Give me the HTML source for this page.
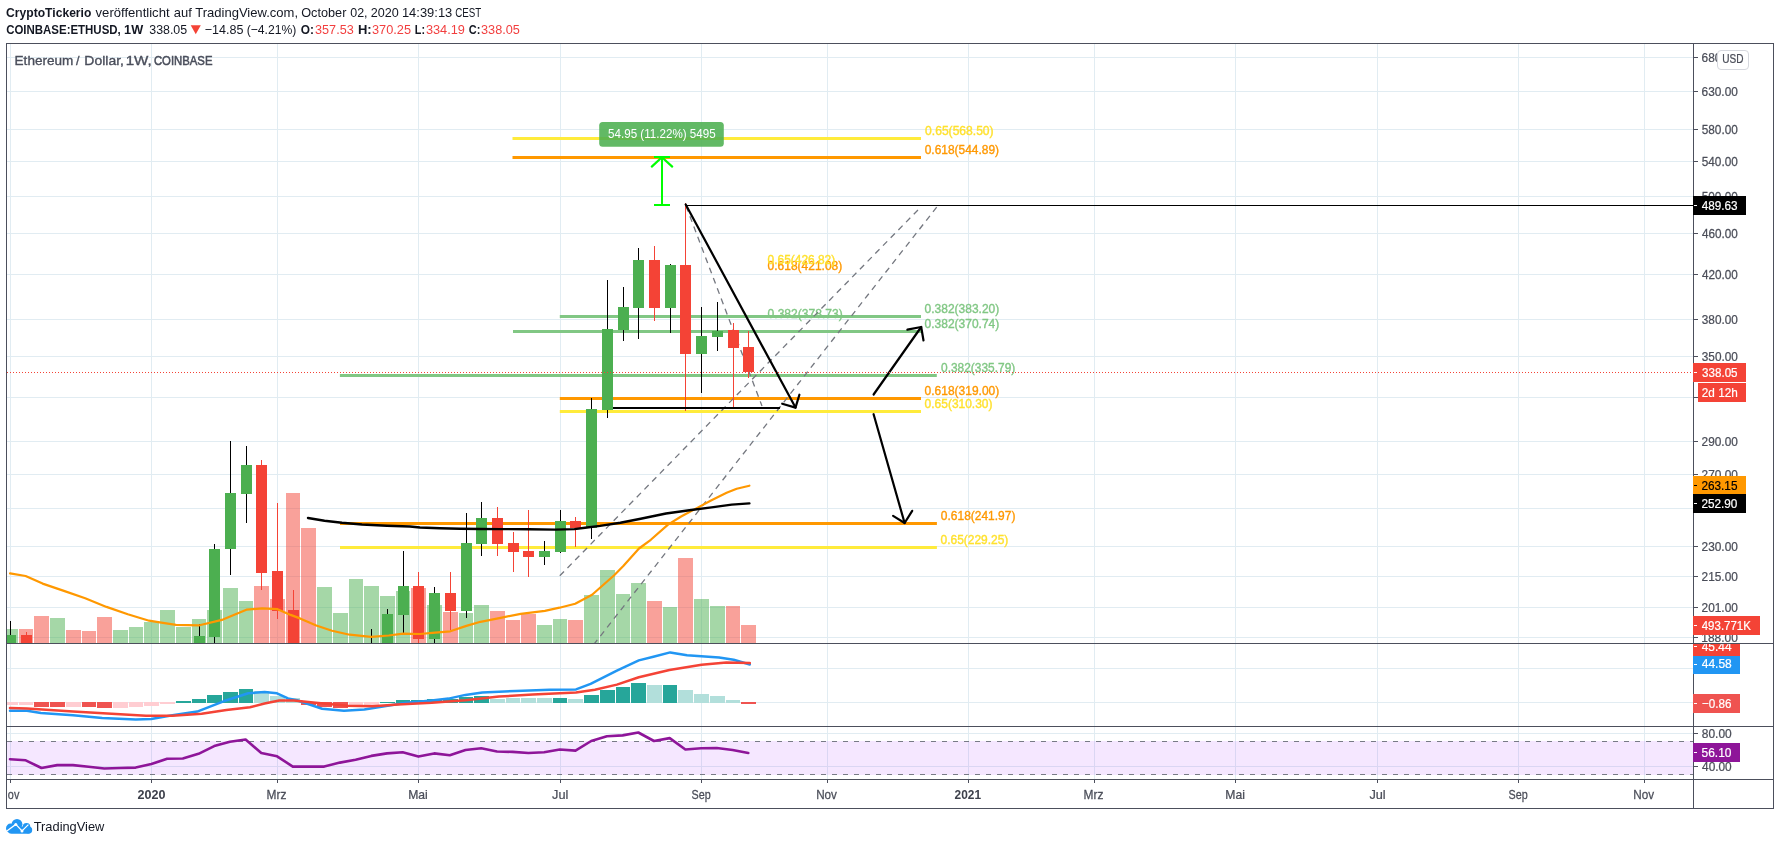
<!DOCTYPE html><html><head><meta charset="utf-8"><title>ETHUSD</title><style>html,body{margin:0;padding:0;background:#fff;width:1780px;height:845px;overflow:hidden}svg{display:block;will-change:transform}text{font-family:"Liberation Sans",sans-serif}</style></head><body>
<svg width="1780" height="845" viewBox="0 0 1780 845">
<defs><clipPath id="cmain"><rect x="7" y="44" width="1686" height="599"/></clipPath><clipPath id="cmacd"><rect x="7" y="644" width="1686" height="82"/></clipPath><clipPath id="crsi"><rect x="7" y="727" width="1686" height="52"/></clipPath><clipPath id="ctime"><rect x="7" y="780" width="1686" height="28"/></clipPath><clipPath id="cmacdax"><rect x="1693" y="644" width="80" height="82"/></clipPath></defs>
<rect width="1780" height="845" fill="#fff"/>
<rect x="10" y="44" width="1" height="735" fill="#e1ecf2"/>
<rect x="151" y="44" width="1" height="735" fill="#e1ecf2"/>
<rect x="277" y="44" width="1" height="735" fill="#e1ecf2"/>
<rect x="418" y="44" width="1" height="735" fill="#e1ecf2"/>
<rect x="560" y="44" width="1" height="735" fill="#e1ecf2"/>
<rect x="701" y="44" width="1" height="735" fill="#e1ecf2"/>
<rect x="827" y="44" width="1" height="735" fill="#e1ecf2"/>
<rect x="968" y="44" width="1" height="735" fill="#e1ecf2"/>
<rect x="1094" y="44" width="1" height="735" fill="#e1ecf2"/>
<rect x="1235" y="44" width="1" height="735" fill="#e1ecf2"/>
<rect x="1377" y="44" width="1" height="735" fill="#e1ecf2"/>
<rect x="1518" y="44" width="1" height="735" fill="#e1ecf2"/>
<rect x="1644" y="44" width="1" height="735" fill="#e1ecf2"/>
<rect x="7" y="57" width="1686" height="1" fill="#e1ecf2"/>
<rect x="7" y="91" width="1686" height="1" fill="#e1ecf2"/>
<rect x="7" y="129" width="1686" height="1" fill="#e1ecf2"/>
<rect x="7" y="161" width="1686" height="1" fill="#e1ecf2"/>
<rect x="7" y="196" width="1686" height="1" fill="#e1ecf2"/>
<rect x="7" y="233" width="1686" height="1" fill="#e1ecf2"/>
<rect x="7" y="274" width="1686" height="1" fill="#e1ecf2"/>
<rect x="7" y="319" width="1686" height="1" fill="#e1ecf2"/>
<rect x="7" y="356" width="1686" height="1" fill="#e1ecf2"/>
<rect x="7" y="397" width="1686" height="1" fill="#e1ecf2"/>
<rect x="7" y="441" width="1686" height="1" fill="#e1ecf2"/>
<rect x="7" y="474" width="1686" height="1" fill="#e1ecf2"/>
<rect x="7" y="508" width="1686" height="1" fill="#e1ecf2"/>
<rect x="7" y="546" width="1686" height="1" fill="#e1ecf2"/>
<rect x="7" y="576" width="1686" height="1" fill="#e1ecf2"/>
<rect x="7" y="607" width="1686" height="1" fill="#e1ecf2"/>
<rect x="7" y="637" width="1686" height="1" fill="#e1ecf2"/>
<rect x="7" y="668" width="1686" height="1" fill="#e1ecf2"/>
<rect x="7" y="702" width="1686" height="1" fill="#e1ecf2"/>
<rect x="7" y="733" width="1686" height="1" fill="#e1ecf2"/>
<rect x="7" y="766" width="1686" height="1" fill="#e1ecf2"/>
<g clip-path="url(#cmain)">
<rect x="3" y="629" width="15" height="14" fill="#4caf50" fill-opacity="0.5"/>
<rect x="19" y="629" width="14" height="14" fill="#f44336" fill-opacity="0.5"/>
<rect x="34" y="616" width="15" height="27" fill="#f44336" fill-opacity="0.5"/>
<rect x="50" y="618" width="15" height="25" fill="#4caf50" fill-opacity="0.5"/>
<rect x="66" y="630" width="15" height="13" fill="#f44336" fill-opacity="0.5"/>
<rect x="82" y="631" width="14" height="12" fill="#f44336" fill-opacity="0.5"/>
<rect x="97" y="617" width="15" height="26" fill="#f44336" fill-opacity="0.5"/>
<rect x="113" y="630" width="15" height="13" fill="#4caf50" fill-opacity="0.5"/>
<rect x="129" y="627" width="14" height="16" fill="#4caf50" fill-opacity="0.5"/>
<rect x="144" y="622" width="15" height="21" fill="#4caf50" fill-opacity="0.5"/>
<rect x="160" y="610" width="15" height="33" fill="#4caf50" fill-opacity="0.5"/>
<rect x="176" y="627" width="15" height="16" fill="#4caf50" fill-opacity="0.5"/>
<rect x="192" y="619" width="14" height="24" fill="#4caf50" fill-opacity="0.5"/>
<rect x="207" y="610" width="15" height="33" fill="#4caf50" fill-opacity="0.5"/>
<rect x="223" y="588" width="15" height="55" fill="#4caf50" fill-opacity="0.5"/>
<rect x="239" y="601" width="14" height="42" fill="#4caf50" fill-opacity="0.5"/>
<rect x="254" y="586" width="15" height="57" fill="#f44336" fill-opacity="0.5"/>
<rect x="270" y="599" width="15" height="44" fill="#f44336" fill-opacity="0.5"/>
<rect x="286" y="493" width="14" height="150" fill="#f44336" fill-opacity="0.5"/>
<rect x="301" y="528" width="15" height="115" fill="#f44336" fill-opacity="0.5"/>
<rect x="317" y="587" width="15" height="56" fill="#4caf50" fill-opacity="0.5"/>
<rect x="333" y="613" width="15" height="30" fill="#4caf50" fill-opacity="0.5"/>
<rect x="349" y="579" width="14" height="64" fill="#4caf50" fill-opacity="0.5"/>
<rect x="364" y="586" width="15" height="57" fill="#4caf50" fill-opacity="0.5"/>
<rect x="380" y="596" width="15" height="47" fill="#4caf50" fill-opacity="0.5"/>
<rect x="396" y="591" width="14" height="52" fill="#4caf50" fill-opacity="0.5"/>
<rect x="411" y="588" width="15" height="55" fill="#f44336" fill-opacity="0.5"/>
<rect x="427" y="605" width="15" height="38" fill="#4caf50" fill-opacity="0.5"/>
<rect x="443" y="612" width="15" height="31" fill="#f44336" fill-opacity="0.5"/>
<rect x="459" y="613" width="14" height="30" fill="#4caf50" fill-opacity="0.5"/>
<rect x="474" y="605" width="15" height="38" fill="#4caf50" fill-opacity="0.5"/>
<rect x="490" y="611" width="15" height="32" fill="#f44336" fill-opacity="0.5"/>
<rect x="506" y="620" width="14" height="23" fill="#f44336" fill-opacity="0.5"/>
<rect x="521" y="614" width="15" height="29" fill="#f44336" fill-opacity="0.5"/>
<rect x="537" y="625" width="15" height="18" fill="#4caf50" fill-opacity="0.5"/>
<rect x="553" y="619" width="14" height="24" fill="#4caf50" fill-opacity="0.5"/>
<rect x="568" y="620" width="15" height="23" fill="#f44336" fill-opacity="0.5"/>
<rect x="584" y="595" width="15" height="48" fill="#4caf50" fill-opacity="0.5"/>
<rect x="600" y="570" width="15" height="73" fill="#4caf50" fill-opacity="0.5"/>
<rect x="616" y="594" width="14" height="49" fill="#4caf50" fill-opacity="0.5"/>
<rect x="631" y="583" width="15" height="60" fill="#4caf50" fill-opacity="0.5"/>
<rect x="647" y="601" width="15" height="42" fill="#f44336" fill-opacity="0.5"/>
<rect x="663" y="607" width="14" height="36" fill="#4caf50" fill-opacity="0.5"/>
<rect x="678" y="558" width="15" height="85" fill="#f44336" fill-opacity="0.5"/>
<rect x="694" y="599" width="15" height="44" fill="#4caf50" fill-opacity="0.5"/>
<rect x="710" y="606" width="15" height="37" fill="#4caf50" fill-opacity="0.5"/>
<rect x="726" y="606" width="14" height="37" fill="#f44336" fill-opacity="0.5"/>
<rect x="741" y="625" width="15" height="18" fill="#f44336" fill-opacity="0.5"/>
<text transform="translate(767.62,317.60) scale(0.9726,1)" font-size="12.4" fill="#81c784" stroke="#81c784" stroke-width="0.35">0.382(378.73)</text>
<rect x="512.5" y="137" width="408.5" height="3" fill="#ffeb3b"/>
<rect x="512.5" y="156" width="408.5" height="3" fill="#ff9800"/>
<rect x="559.8" y="315" width="361.2" height="3" fill="#81c784"/>
<rect x="513" y="330" width="408.0" height="3" fill="#81c784"/>
<rect x="339.9" y="374" width="596.9" height="3" fill="#81c784"/>
<rect x="559.8" y="397" width="361.2" height="3" fill="#ff9800"/>
<rect x="559.8" y="410" width="361.2" height="3" fill="#ffeb3b"/>
<rect x="340" y="522" width="596.9" height="3" fill="#ff9800"/>
<rect x="340" y="546" width="596.9" height="3" fill="#ffeb3b"/>
<line x1="559.8" y1="575.8" x2="918.3" y2="209.6" stroke="#74777f" stroke-width="1.3" stroke-dasharray="6 5"/>
<line x1="580" y1="662" x2="937.4" y2="206.3" stroke="#74777f" stroke-width="1.3" stroke-dasharray="6 5"/>
<line x1="686" y1="206" x2="762" y2="406" stroke="#74777f" stroke-width="1.3" stroke-dasharray="6 5"/>
<text transform="translate(14.58,64.80) scale(1.0276,1)" font-size="13.2" fill="#4a4e5b" stroke="#4a4e5b" stroke-width="0.35">Ethereum</text>
<text transform="translate(76.10,64.80) scale(0.9555,1)" font-size="13.2" fill="#4a4e5b" stroke="#4a4e5b" stroke-width="0.35">/</text>
<text transform="translate(84.35,64.80) scale(1.0585,1)" font-size="13.2" fill="#4a4e5b" stroke="#4a4e5b" stroke-width="0.35">Dollar,</text>
<text transform="translate(125.66,64.80) scale(1.1479,1)" font-size="13.2" fill="#4a4e5b" stroke="#4a4e5b" stroke-width="0.35">1W,</text>
<text transform="translate(153.93,64.80) scale(0.8583,1)" font-size="13.2" fill="#4a4e5b" stroke="#4a4e5b" stroke-width="0.55">COINBASE</text>
<text transform="translate(925.12,134.70) scale(0.9744,1)" font-size="12.4" fill="#ffe12e" stroke="#ffe12e" stroke-width="0.35">0.65(568.50)</text>
<text transform="translate(924.72,153.80) scale(0.9634,1)" font-size="12.4" fill="#ff9800" stroke="#ff9800" stroke-width="0.35">0.618(544.89)</text>
<text transform="translate(767.62,269.60) scale(0.9660,1)" font-size="12.4" fill="#ff9800" stroke="#ff9800" stroke-width="0.35">0.618(421.08)</text>
<text transform="translate(767.62,263.60) scale(0.9614,1)" font-size="12.4" fill="#ffe12e" stroke="#ffe12e" stroke-width="0.35">0.65(426.82)</text>
<text transform="translate(924.62,312.80) scale(0.9660,1)" font-size="12.4" fill="#81c784" stroke="#81c784" stroke-width="0.35">0.382(383.20)</text>
<text transform="translate(924.62,327.80) scale(0.9660,1)" font-size="12.4" fill="#81c784" stroke="#81c784" stroke-width="0.35">0.382(370.74)</text>
<text transform="translate(941.02,371.80) scale(0.9621,1)" font-size="12.4" fill="#81c784" stroke="#81c784" stroke-width="0.35">0.382(335.79)</text>
<text transform="translate(924.62,394.90) scale(0.9660,1)" font-size="12.4" fill="#ff9800" stroke="#ff9800" stroke-width="0.35">0.618(319.00)</text>
<text transform="translate(924.62,407.60) scale(0.9657,1)" font-size="12.4" fill="#ffe12e" stroke="#ffe12e" stroke-width="0.35">0.65(310.30)</text>
<text transform="translate(940.82,519.70) scale(0.9660,1)" font-size="12.4" fill="#ff9800" stroke="#ff9800" stroke-width="0.35">0.618(241.97)</text>
<text transform="translate(940.52,543.80) scale(0.9657,1)" font-size="12.4" fill="#ffe12e" stroke="#ffe12e" stroke-width="0.35">0.65(229.25)</text>
<rect x="10" y="621" width="1" height="39" fill="#000000"/>
<rect x="5" y="635" width="11" height="25" fill="#4caf50"/>
<rect x="26" y="632" width="1" height="28" fill="#f44336"/>
<rect x="21" y="635" width="11" height="25" fill="#f44336"/>
<rect x="199" y="624" width="1" height="36" fill="#000000"/>
<rect x="194" y="636" width="11" height="24" fill="#4caf50"/>
<rect x="214" y="544" width="1" height="116" fill="#000000"/>
<rect x="209" y="549" width="11" height="88" fill="#4caf50"/>
<rect x="230" y="441" width="1" height="134" fill="#000000"/>
<rect x="225" y="493" width="11" height="56" fill="#4caf50"/>
<rect x="246" y="446" width="1" height="77" fill="#000000"/>
<rect x="241" y="465" width="11" height="29" fill="#4caf50"/>
<rect x="261" y="460" width="1" height="130" fill="#f44336"/>
<rect x="256" y="465" width="11" height="108" fill="#f44336"/>
<rect x="277" y="503" width="1" height="116" fill="#f44336"/>
<rect x="272" y="571" width="11" height="40" fill="#f44336"/>
<rect x="293" y="590" width="1" height="70" fill="#f44336"/>
<rect x="288" y="610" width="11" height="50" fill="#f44336"/>
<rect x="371" y="629" width="1" height="31" fill="#000000"/>
<rect x="366" y="660" width="11" height="1" fill="#4caf50"/>
<rect x="387" y="609" width="1" height="51" fill="#000000"/>
<rect x="382" y="614" width="11" height="46" fill="#4caf50"/>
<rect x="403" y="551" width="1" height="82" fill="#000000"/>
<rect x="398" y="586" width="11" height="29" fill="#4caf50"/>
<rect x="418" y="572" width="1" height="88" fill="#f44336"/>
<rect x="413" y="586" width="11" height="53" fill="#f44336"/>
<rect x="434" y="587" width="1" height="73" fill="#000000"/>
<rect x="429" y="593" width="11" height="46" fill="#4caf50"/>
<rect x="450" y="572" width="1" height="58" fill="#f44336"/>
<rect x="445" y="593" width="11" height="18" fill="#f44336"/>
<rect x="466" y="513" width="1" height="105" fill="#000000"/>
<rect x="461" y="543" width="11" height="68" fill="#4caf50"/>
<rect x="481" y="502" width="1" height="54" fill="#000000"/>
<rect x="476" y="518" width="11" height="26" fill="#4caf50"/>
<rect x="497" y="507" width="1" height="49" fill="#f44336"/>
<rect x="492" y="518" width="11" height="26" fill="#f44336"/>
<rect x="513" y="532" width="1" height="40" fill="#f44336"/>
<rect x="508" y="543" width="11" height="9" fill="#f44336"/>
<rect x="528" y="510" width="1" height="67" fill="#f44336"/>
<rect x="523" y="551" width="11" height="6" fill="#f44336"/>
<rect x="544" y="541" width="1" height="24" fill="#000000"/>
<rect x="539" y="551" width="11" height="6" fill="#4caf50"/>
<rect x="560" y="510" width="1" height="43" fill="#000000"/>
<rect x="555" y="521" width="11" height="31" fill="#4caf50"/>
<rect x="575" y="517" width="1" height="30" fill="#f44336"/>
<rect x="570" y="521" width="11" height="7" fill="#f44336"/>
<rect x="591" y="398" width="1" height="141" fill="#000000"/>
<rect x="586" y="409" width="11" height="119" fill="#4caf50"/>
<rect x="607" y="280" width="1" height="138" fill="#000000"/>
<rect x="602" y="329" width="11" height="81" fill="#4caf50"/>
<rect x="623" y="287" width="1" height="54" fill="#000000"/>
<rect x="618" y="307" width="11" height="23" fill="#4caf50"/>
<rect x="638" y="248" width="1" height="91" fill="#000000"/>
<rect x="633" y="260" width="11" height="48" fill="#4caf50"/>
<rect x="654" y="246" width="1" height="75" fill="#f44336"/>
<rect x="649" y="260" width="11" height="48" fill="#f44336"/>
<rect x="670" y="264" width="1" height="69" fill="#000000"/>
<rect x="665" y="265" width="11" height="43" fill="#4caf50"/>
<rect x="685" y="203" width="1" height="208" fill="#f44336"/>
<rect x="680" y="265" width="11" height="89" fill="#f44336"/>
<rect x="701" y="307" width="1" height="86" fill="#000000"/>
<rect x="696" y="336" width="11" height="18" fill="#4caf50"/>
<rect x="717" y="302" width="1" height="49" fill="#000000"/>
<rect x="712" y="331" width="11" height="6" fill="#4caf50"/>
<rect x="733" y="323" width="1" height="85" fill="#f44336"/>
<rect x="728" y="330" width="11" height="18" fill="#f44336"/>
<rect x="748" y="331" width="1" height="47" fill="#f44336"/>
<rect x="743" y="347" width="11" height="25" fill="#f44336"/>
<polyline points="10.1,573.3 25.6,576.0 42.6,583.6 63.9,590.9 85.2,598.3 106.5,606.9 127.8,614.3 149.1,620.7 159.7,622.3 176.0,624.8 199.5,625.3 222.9,619.6 246.4,609.7 262.0,608.4 277.6,609.2 290.6,614.9 300.0,618.4 316.3,625.5 332.0,630.8 349.7,634.7 371.0,636.9 388.8,635.5 403.0,633.7 420.0,634.0 432.2,632.9 450.3,631.3 466.4,625.9 480.5,621.8 500.6,617.8 520.7,613.8 544.9,610.8 559.5,607.7 575.2,603.8 592.1,594.7 614.2,575.2 623.3,566.0 639.0,548.5 650.8,539.8 668.0,524.6 681.1,516.5 696.3,508.4 711.5,500.3 726.6,492.8 736.7,488.7 749.4,485.7" fill="none" stroke="#ff9800" stroke-width="2.2" stroke-linejoin="round" stroke-linecap="round"/>
<polyline points="308.0,518.0 324.5,520.7 342.0,522.7 362.0,524.5 387.0,525.7 410.0,526.5 420.0,527.5 440.0,528.2 460.0,528.8 480.0,529.0 500.0,529.1 529.0,529.3 555.0,529.6 574.5,529.1 585.0,527.8 600.0,525.9 620.4,522.8 640.7,518.7 666.0,513.5 691.2,510.0 711.5,507.4 731.7,504.6 749.4,503.4" fill="none" stroke="#000000" stroke-width="2.4" stroke-linejoin="round" stroke-linecap="round"/>
<rect x="686" y="205" width="1007" height="1" fill="#000"/>
<rect x="613" y="407" width="167" height="2" fill="#000"/>
<line x1="685.7" y1="204.5" x2="795.5" y2="407.6" stroke="#000" stroke-width="2.2" stroke-linecap="round"/>
<polyline points="782.2,403.7 795.5,407.6 799.4,394.7" fill="none" stroke="#000" stroke-width="2.2" stroke-linejoin="round" stroke-linecap="round"/>
<line x1="873.6" y1="394.5" x2="921.2" y2="327" stroke="#000" stroke-width="2.2" stroke-linecap="round"/>
<polyline points="907.4,329.7 921.2,327.0 923.5,340.5" fill="none" stroke="#000" stroke-width="2.2" stroke-linejoin="round" stroke-linecap="round"/>
<line x1="873.6" y1="414.2" x2="904.6" y2="523" stroke="#000" stroke-width="2.2" stroke-linecap="round"/>
<polyline points="893.1,515.9 904.6,523.0 912.2,510.8" fill="none" stroke="#000" stroke-width="2.2" stroke-linejoin="round" stroke-linecap="round"/>
<rect x="654" y="156" width="16" height="2" fill="#00ff00"/>
<rect x="661" y="156" width="2" height="50" fill="#00ff00"/>
<rect x="654" y="204" width="16" height="2" fill="#00ff00"/>
<polyline points="651.8,166.6 661.9,157.2 672.2,166.6" fill="none" stroke="#00ff00" stroke-width="2.2" stroke-linejoin="round" stroke-linecap="round" stroke-linecap="butt" stroke-linejoin="miter"/>
<rect x="599.2" y="122" width="124.6" height="24.8" rx="3.5" fill="#4caf50" fill-opacity="0.88"/>
<text transform="translate(608.03,137.90) scale(0.9302,1)" font-size="12.5" fill="#ffffff">54.95 (11.22%) 5495</text>
<line x1="7" y1="372.5" x2="1693" y2="372.5" stroke="#f44336" stroke-width="1" stroke-dasharray="1 2"/>
</g>
<g clip-path="url(#cmacd)"><rect x="3" y="702" width="15" height="3" fill="#ffcdd2"/>
<rect x="19" y="702" width="14" height="3" fill="#ffcdd2"/>
<rect x="34" y="702" width="15" height="5" fill="#ef5350"/>
<rect x="50" y="702" width="15" height="5" fill="#ef5350"/>
<rect x="66" y="702" width="15" height="5" fill="#ffcdd2"/>
<rect x="82" y="702" width="14" height="5" fill="#ef5350"/>
<rect x="97" y="702" width="15" height="6" fill="#ef5350"/>
<rect x="113" y="702" width="15" height="6" fill="#ffcdd2"/>
<rect x="129" y="702" width="14" height="5" fill="#ffcdd2"/>
<rect x="144" y="702" width="15" height="4" fill="#ffcdd2"/>
<rect x="160" y="702" width="15" height="2" fill="#ffcdd2"/>
<rect x="176" y="701" width="15" height="2" fill="#26a69a"/>
<rect x="192" y="699" width="14" height="4" fill="#26a69a"/>
<rect x="207" y="695" width="15" height="8" fill="#26a69a"/>
<rect x="223" y="692" width="15" height="11" fill="#26a69a"/>
<rect x="239" y="689" width="14" height="14" fill="#26a69a"/>
<rect x="254" y="691" width="15" height="12" fill="#b2dfdb"/>
<rect x="270" y="696" width="15" height="7" fill="#b2dfdb"/>
<rect x="286" y="698" width="14" height="5" fill="#b2dfdb"/>
<rect x="301" y="702" width="15" height="3" fill="#ef5350"/>
<rect x="317" y="702" width="15" height="5" fill="#ef5350"/>
<rect x="333" y="702" width="15" height="6" fill="#ef5350"/>
<rect x="349" y="702" width="14" height="3" fill="#ffcdd2"/>
<rect x="364" y="702" width="15" height="3" fill="#ffcdd2"/>
<rect x="380" y="702" width="15" height="1" fill="#26a69a"/>
<rect x="396" y="700" width="14" height="3" fill="#26a69a"/>
<rect x="411" y="700" width="15" height="3" fill="#26a69a"/>
<rect x="427" y="699" width="15" height="4" fill="#26a69a"/>
<rect x="443" y="699" width="15" height="4" fill="#26a69a"/>
<rect x="459" y="697" width="14" height="6" fill="#26a69a"/>
<rect x="474" y="696" width="15" height="7" fill="#26a69a"/>
<rect x="490" y="699" width="15" height="4" fill="#b2dfdb"/>
<rect x="506" y="698" width="14" height="5" fill="#b2dfdb"/>
<rect x="521" y="698" width="15" height="5" fill="#b2dfdb"/>
<rect x="537" y="698" width="15" height="5" fill="#b2dfdb"/>
<rect x="553" y="698" width="14" height="5" fill="#26a69a"/>
<rect x="568" y="699" width="15" height="4" fill="#b2dfdb"/>
<rect x="584" y="695" width="15" height="8" fill="#26a69a"/>
<rect x="600" y="690" width="15" height="13" fill="#26a69a"/>
<rect x="616" y="687" width="14" height="16" fill="#26a69a"/>
<rect x="631" y="683" width="15" height="20" fill="#26a69a"/>
<rect x="647" y="685" width="15" height="18" fill="#b2dfdb"/>
<rect x="663" y="685" width="14" height="18" fill="#26a69a"/>
<rect x="678" y="690" width="15" height="13" fill="#b2dfdb"/>
<rect x="694" y="694" width="15" height="9" fill="#b2dfdb"/>
<rect x="710" y="696" width="15" height="7" fill="#b2dfdb"/>
<rect x="726" y="700" width="14" height="3" fill="#b2dfdb"/>
<rect x="741" y="702" width="15" height="2" fill="#ef5350"/>
<polyline points="10.0,710.8 27.0,710.8 40.9,713.0 73.0,715.2 102.2,718.1 135.8,719.6 151.2,718.9 172.4,715.2 197.2,711.6 223.5,701.3 248.3,693.3 264.6,691.9 277.0,693.3 288.0,698.4 296.9,700.3 322.1,708.7 344.0,710.7 364.3,709.6 384.5,706.2 406.4,702.8 431.7,700.6 448.5,698.6 465.4,694.9 482.3,692.4 516.0,691.0 549.7,689.8 576.0,689.4 590.6,683.8 616.9,670.7 638.8,660.4 653.4,656.8 670.2,652.4 687.0,655.3 719.1,657.5 733.7,659.7 749.8,664.5" fill="none" stroke="#2196f3" stroke-width="2.5" stroke-linejoin="round" stroke-linecap="round"/>
<polyline points="10.0,707.9 27.0,708.6 73.0,711.6 146.0,715.7 172.4,715.7 201.6,713.8 226.4,710.1 250.0,707.2 264.6,703.5 279.2,700.6 293.8,700.6 315.7,702.8 347.4,705.7 372.7,706.2 398.0,704.5 431.7,702.8 465.4,700.3 499.1,696.6 532.8,694.4 576.0,692.6 594.9,689.7 616.9,684.6 638.8,677.2 669.4,670.0 701.6,664.8 726.4,662.6 749.8,663.1" fill="none" stroke="#f44336" stroke-width="2.5" stroke-linejoin="round" stroke-linecap="round"/></g>
<g clip-path="url(#crsi)"><rect x="7" y="741" width="1686" height="34" fill="#9915ff" fill-opacity="0.1"/>
<line x1="7" y1="741.5" x2="1693" y2="741.5" stroke="#787b86" stroke-width="1" stroke-dasharray="5 6"/>
<line x1="7" y1="774.5" x2="1693" y2="774.5" stroke="#787b86" stroke-width="1" stroke-dasharray="5 6"/>
<polyline points="10.0,759.2 25.7,760.3 41.5,768.0 57.2,765.1 72.9,765.1 88.6,766.8 104.3,768.5 120.0,768.0 135.7,767.6 151.4,764.1 167.1,758.8 182.8,758.5 198.5,753.8 214.2,746.1 229.9,741.7 245.6,739.5 261.3,753.0 277.1,756.3 292.8,766.6 308.5,766.6 324.2,766.6 339.9,762.6 355.6,759.7 371.3,755.9 387.0,753.4 402.7,752.2 418.4,756.6 434.1,753.4 449.8,755.3 465.5,750.0 481.2,748.3 497.0,751.5 512.7,751.9 528.4,753.0 544.1,752.2 559.8,749.5 575.5,750.6 591.2,741.0 606.9,736.2 622.6,735.4 638.3,732.5 654.0,741.0 669.7,738.1 685.4,749.5 701.1,748.3 716.8,748.0 732.6,750.0 748.3,753.0" fill="none" stroke="#8e1599" stroke-width="2.6" stroke-linejoin="round" stroke-linecap="round"/></g>
<rect x="6" y="43" width="1768" height="1" fill="#4c4f5c"/>
<rect x="6" y="808" width="1768" height="1" fill="#4c4f5c"/>
<rect x="6" y="43" width="1" height="766" fill="#4c4f5c"/>
<rect x="1773" y="43" width="1" height="766" fill="#4c4f5c"/>
<rect x="1693" y="43" width="1" height="766" fill="#4c4f5c"/>
<rect x="6" y="643" width="1768" height="1" fill="#4c4f5c"/>
<rect x="6" y="726" width="1768" height="1" fill="#4c4f5c"/>
<rect x="6" y="779" width="1768" height="1" fill="#4c4f5c"/>
<rect x="1694" y="57" width="4" height="1" fill="#4c4f5c"/>
<text transform="translate(1701.61,62.00) scale(0.9117,1)" font-size="13.0" fill="#4a4d58" stroke="#4a4d58" stroke-width="0.25">680.00</text>
<rect x="1694" y="91" width="4" height="1" fill="#4c4f5c"/>
<text transform="translate(1701.61,96.00) scale(0.9117,1)" font-size="13.0" fill="#4a4d58" stroke="#4a4d58" stroke-width="0.25">630.00</text>
<rect x="1694" y="129" width="4" height="1" fill="#4c4f5c"/>
<text transform="translate(1701.73,134.00) scale(0.9086,1)" font-size="13.0" fill="#4a4d58" stroke="#4a4d58" stroke-width="0.25">580.00</text>
<rect x="1694" y="161" width="4" height="1" fill="#4c4f5c"/>
<text transform="translate(1701.73,166.00) scale(0.9086,1)" font-size="13.0" fill="#4a4d58" stroke="#4a4d58" stroke-width="0.25">540.00</text>
<rect x="1694" y="196" width="4" height="1" fill="#4c4f5c"/>
<text transform="translate(1701.73,201.00) scale(0.9086,1)" font-size="13.0" fill="#4a4d58" stroke="#4a4d58" stroke-width="0.25">500.00</text>
<rect x="1694" y="233" width="4" height="1" fill="#4c4f5c"/>
<text transform="translate(1701.94,238.00) scale(0.9033,1)" font-size="13.0" fill="#4a4d58" stroke="#4a4d58" stroke-width="0.25">460.00</text>
<rect x="1694" y="274" width="4" height="1" fill="#4c4f5c"/>
<text transform="translate(1701.94,279.00) scale(0.9033,1)" font-size="13.0" fill="#4a4d58" stroke="#4a4d58" stroke-width="0.25">420.00</text>
<rect x="1694" y="319" width="4" height="1" fill="#4c4f5c"/>
<text transform="translate(1701.76,324.00) scale(0.9079,1)" font-size="13.0" fill="#4a4d58" stroke="#4a4d58" stroke-width="0.25">380.00</text>
<rect x="1694" y="356" width="4" height="1" fill="#4c4f5c"/>
<text transform="translate(1701.76,361.00) scale(0.9079,1)" font-size="13.0" fill="#4a4d58" stroke="#4a4d58" stroke-width="0.25">350.00</text>
<rect x="1694" y="397" width="4" height="1" fill="#4c4f5c"/>
<text transform="translate(1701.76,402.00) scale(0.9079,1)" font-size="13.0" fill="#4a4d58" stroke="#4a4d58" stroke-width="0.25">320.00</text>
<rect x="1694" y="441" width="4" height="1" fill="#4c4f5c"/>
<text transform="translate(1701.61,446.00) scale(0.9117,1)" font-size="13.0" fill="#4a4d58" stroke="#4a4d58" stroke-width="0.25">290.00</text>
<rect x="1694" y="474" width="4" height="1" fill="#4c4f5c"/>
<text transform="translate(1701.61,479.00) scale(0.9117,1)" font-size="13.0" fill="#4a4d58" stroke="#4a4d58" stroke-width="0.25">270.00</text>
<rect x="1694" y="508" width="4" height="1" fill="#4c4f5c"/>
<text transform="translate(1701.61,513.00) scale(0.9117,1)" font-size="13.0" fill="#4a4d58" stroke="#4a4d58" stroke-width="0.25">250.00</text>
<rect x="1694" y="546" width="4" height="1" fill="#4c4f5c"/>
<text transform="translate(1701.61,551.00) scale(0.9117,1)" font-size="13.0" fill="#4a4d58" stroke="#4a4d58" stroke-width="0.25">230.00</text>
<rect x="1694" y="576" width="4" height="1" fill="#4c4f5c"/>
<text transform="translate(1701.61,581.00) scale(0.9117,1)" font-size="13.0" fill="#4a4d58" stroke="#4a4d58" stroke-width="0.25">215.00</text>
<rect x="1694" y="607" width="4" height="1" fill="#4c4f5c"/>
<text transform="translate(1701.61,612.00) scale(0.9117,1)" font-size="13.0" fill="#4a4d58" stroke="#4a4d58" stroke-width="0.25">201.00</text>
<rect x="1694" y="637" width="4" height="1" fill="#4c4f5c"/>
<text transform="translate(1701.30,642.00) scale(0.9194,1)" font-size="13.0" fill="#4a4d58" stroke="#4a4d58" stroke-width="0.25">188.00</text>
<rect x="1694" y="733" width="4" height="1" fill="#4c4f5c"/>
<text transform="translate(1701.79,737.80) scale(0.9209,1)" font-size="13.0" fill="#4a4d58" stroke="#4a4d58" stroke-width="0.25">80.00</text>
<rect x="1694" y="766" width="4" height="1" fill="#4c4f5c"/>
<text transform="translate(1702.03,770.80) scale(0.9133,1)" font-size="13.0" fill="#4a4d58" stroke="#4a4d58" stroke-width="0.25">40.00</text>
<rect x="1717.5" y="50.5" width="31" height="19" rx="3.5" fill="#ffffff" stroke="#d6d8de" stroke-width="1"/>
<text transform="translate(1722.22,62.90) scale(0.7741,1)" font-size="13.0" fill="#4a4d58" stroke="#4a4d58" stroke-width="0.25">USD</text>
<rect x="1693" y="196" width="53" height="19" fill="#000000"/>
<rect x="1694" y="205" width="3" height="1" fill="#ffffff"/>
<text transform="translate(1701.74,210.00) scale(0.9023,1)" font-size="13.0" fill="#ffffff" stroke="#ffffff" stroke-width="0.2">489.63</text>
<rect x="1693" y="363" width="53" height="19" fill="#f44336"/>
<rect x="1694" y="372" width="3" height="1" fill="#ffffff"/>
<text transform="translate(1702.06,377.00) scale(0.8931,1)" font-size="13.0" fill="#ffffff" stroke="#ffffff" stroke-width="0.2">338.05</text>
<rect x="1698" y="383" width="48" height="19" fill="#f44336"/>
<text transform="translate(1701.81,396.80) scale(0.9064,1)" font-size="13.0" fill="#ffffff" stroke="#ffffff" stroke-width="0.2">2d 12h</text>
<rect x="1693" y="476" width="53" height="18" fill="#ff9800"/>
<rect x="1694" y="485" width="3" height="1" fill="#000000"/>
<text transform="translate(1701.41,489.80) scale(0.9073,1)" font-size="13.0" fill="#000000" stroke="#000000" stroke-width="0.2">263.15</text>
<rect x="1693" y="494" width="53" height="19" fill="#000000"/>
<rect x="1694" y="503" width="3" height="1" fill="#ffffff"/>
<text transform="translate(1701.41,508.00) scale(0.9065,1)" font-size="13.0" fill="#ffffff" stroke="#ffffff" stroke-width="0.2">252.90</text>
<rect x="1693" y="616" width="67" height="19" fill="#f44336"/>
<rect x="1694" y="625" width="3" height="1" fill="#ffffff"/>
<text transform="translate(1701.74,629.90) scale(0.8838,1)" font-size="13.0" fill="#ffffff" stroke="#ffffff" stroke-width="0.2">493.771K</text>
<g clip-path="url(#cmacdax)">
<rect x="1693" y="637" width="47" height="19" fill="#f44336"/>
<rect x="1694" y="646" width="3" height="1" fill="#ffffff"/>
<text transform="translate(1701.73,650.60) scale(0.9159,1)" font-size="13.0" fill="#ffffff" stroke="#ffffff" stroke-width="0.2">45.44</text>
</g>
<rect x="1693" y="656" width="47" height="18" fill="#2196f3"/>
<rect x="1694" y="664" width="3" height="1" fill="#ffffff"/>
<text transform="translate(1701.73,668.20) scale(0.9215,1)" font-size="13.0" fill="#ffffff" stroke="#ffffff" stroke-width="0.2">44.58</text>
<rect x="1693" y="694" width="47" height="19" fill="#ef5350"/>
<rect x="1694" y="703" width="3" height="1" fill="#ffffff"/>
<text transform="translate(1702.02,707.70) scale(0.8963,1)" font-size="13.0" fill="#ffffff" stroke="#ffffff" stroke-width="0.2">−0.86</text>
<rect x="1693" y="743" width="47" height="19" fill="#8e1599"/>
<rect x="1694" y="752" width="3" height="1" fill="#ffffff"/>
<text transform="translate(1701.52,756.70) scale(0.9199,1)" font-size="13.0" fill="#ffffff" stroke="#ffffff" stroke-width="0.2">56.10</text>
<g clip-path="url(#ctime)"><rect x="10" y="780" width="1" height="3" fill="#4c4f5c"/>
<rect x="151" y="780" width="1" height="3" fill="#4c4f5c"/>
<rect x="277" y="780" width="1" height="3" fill="#4c4f5c"/>
<rect x="418" y="780" width="1" height="3" fill="#4c4f5c"/>
<rect x="560" y="780" width="1" height="3" fill="#4c4f5c"/>
<rect x="701" y="780" width="1" height="3" fill="#4c4f5c"/>
<rect x="827" y="780" width="1" height="3" fill="#4c4f5c"/>
<rect x="968" y="780" width="1" height="3" fill="#4c4f5c"/>
<rect x="1094" y="780" width="1" height="3" fill="#4c4f5c"/>
<rect x="1235" y="780" width="1" height="3" fill="#4c4f5c"/>
<rect x="1377" y="780" width="1" height="3" fill="#4c4f5c"/>
<rect x="1518" y="780" width="1" height="3" fill="#4c4f5c"/>
<rect x="1644" y="780" width="1" height="3" fill="#4c4f5c"/>
<text transform="translate(7.84,798.80) scale(0.8443,1)" font-size="12.9" fill="#4a4d58" stroke="#4a4d58" stroke-width="0.25">ov</text>
<text transform="translate(137.56,798.80) scale(0.9746,1)" font-size="12.9" font-weight="bold" fill="#3d404b">2020</text>
<text transform="translate(266.51,798.80) scale(0.9257,1)" font-size="12.9" fill="#4a4d58" stroke="#4a4d58" stroke-width="0.25">Mrz</text>
<text transform="translate(408.20,798.80) scale(0.9435,1)" font-size="12.9" fill="#4a4d58" stroke="#4a4d58" stroke-width="0.25">Mai</text>
<text transform="translate(552.11,798.80) scale(0.9860,1)" font-size="12.9" fill="#4a4d58" stroke="#4a4d58" stroke-width="0.25">Jul</text>
<text transform="translate(691.51,798.80) scale(0.8382,1)" font-size="12.9" fill="#4a4d58" stroke="#4a4d58" stroke-width="0.25">Sep</text>
<text transform="translate(816.13,798.80) scale(0.9069,1)" font-size="12.9" fill="#4a4d58" stroke="#4a4d58" stroke-width="0.25">Nov</text>
<text transform="translate(954.58,798.80) scale(0.9223,1)" font-size="12.9" font-weight="bold" fill="#3d404b">2021</text>
<text transform="translate(1083.61,798.80) scale(0.9257,1)" font-size="12.9" fill="#4a4d58" stroke="#4a4d58" stroke-width="0.25">Mrz</text>
<text transform="translate(1225.30,798.80) scale(0.9435,1)" font-size="12.9" fill="#4a4d58" stroke="#4a4d58" stroke-width="0.25">Mai</text>
<text transform="translate(1369.41,798.80) scale(0.9860,1)" font-size="12.9" fill="#4a4d58" stroke="#4a4d58" stroke-width="0.25">Jul</text>
<text transform="translate(1508.56,798.80) scale(0.8382,1)" font-size="12.9" fill="#4a4d58" stroke="#4a4d58" stroke-width="0.25">Sep</text>
<text transform="translate(1633.33,798.80) scale(0.9069,1)" font-size="12.9" fill="#4a4d58" stroke="#4a4d58" stroke-width="0.25">Nov</text></g>
<text transform="translate(6.12,16.80) scale(0.9463,1)" font-size="12.8" font-weight="bold" fill="#131722">CryptoTickerio</text>
<text transform="translate(95.57,16.80) scale(1.0246,1)" font-size="12.8" fill="#131722">veröffentlicht</text>
<text transform="translate(173.85,16.80) scale(1.0127,1)" font-size="12.8" fill="#131722">auf</text>
<text transform="translate(195.21,16.80) scale(1.0192,1)" font-size="12.8" fill="#131722">TradingView.com,</text>
<text transform="translate(301.20,16.80) scale(0.9925,1)" font-size="12.8" fill="#131722">October</text>
<text transform="translate(350.20,16.80) scale(0.9735,1)" font-size="12.8" fill="#131722">02,</text>
<text transform="translate(370.87,16.80) scale(0.9843,1)" font-size="12.8" fill="#131722">2020</text>
<text transform="translate(401.93,16.80) scale(1.0120,1)" font-size="12.8" fill="#131722">14:39:13</text>
<text transform="translate(455.21,16.80) scale(0.7624,1)" font-size="12.8" fill="#131722">CEST</text>
<text transform="translate(6.14,33.70) scale(0.8964,1)" font-size="12.8" font-weight="bold" fill="#131722">COINBASE:ETHUSD,</text>
<text transform="translate(124.11,33.70) scale(0.9909,1)" font-size="12.8" font-weight="bold" fill="#131722">1W</text>
<text transform="translate(149.23,33.70) scale(0.9700,1)" font-size="12.8" fill="#131722">338.05</text>
<polygon points="190.7,25.3 200.8,25.3 195.75,34.3" fill="#f44336"/>
<text transform="translate(204.67,33.70) scale(0.9808,1)" font-size="12.8" fill="#131722">−14.85</text>
<text transform="translate(246.64,33.70) scale(0.9523,1)" font-size="12.8" fill="#131722">(−4.21%)</text>
<text transform="translate(300.82,33.70) scale(0.9295,1)" font-size="12.8" font-weight="bold" fill="#131722">O:</text>
<text transform="translate(315.03,33.70) scale(0.9892,1)" font-size="12.8" fill="#f23f3f">357.53</text>
<text transform="translate(357.92,33.70) scale(1.0154,1)" font-size="12.8" font-weight="bold" fill="#131722">H:</text>
<text transform="translate(371.92,33.70) scale(0.9988,1)" font-size="12.8" fill="#f23f3f">370.25</text>
<text transform="translate(414.87,33.70) scale(0.8413,1)" font-size="12.8" font-weight="bold" fill="#131722">L:</text>
<text transform="translate(425.92,33.70) scale(0.9979,1)" font-size="12.8" fill="#f23f3f">334.19</text>
<text transform="translate(468.86,33.70) scale(0.8577,1)" font-size="12.8" font-weight="bold" fill="#131722">C:</text>
<text transform="translate(481.02,33.70) scale(0.9936,1)" font-size="12.8" fill="#f23f3f">338.05</text>
<g>
<circle cx="17" cy="824.3" r="5.4" fill="#2196f3"/>
<circle cx="26.5" cy="826.8" r="3.8" fill="#2196f3"/>
<circle cx="10.6" cy="828.2" r="4.6" fill="#2196f3"/>
<rect x="8" y="826.5" width="23.5" height="7.3" rx="3.6" fill="#2196f3"/>
<circle cx="28.6" cy="830" r="3.6" fill="#2196f3"/>
<polyline points="6.5,831.2 15.8,824.4 22,830.9 28.4,824.6" fill="none" stroke="#ffffff" stroke-width="1.2"/>
<circle cx="15.8" cy="824.4" r="1.5" fill="#ffffff"/>
<circle cx="22" cy="830.9" r="1.5" fill="#ffffff"/>
</g>
<text transform="translate(33.71,830.80) scale(0.9968,1)" font-size="12.9" fill="#131722">TradingView</text>
</svg></body></html>
